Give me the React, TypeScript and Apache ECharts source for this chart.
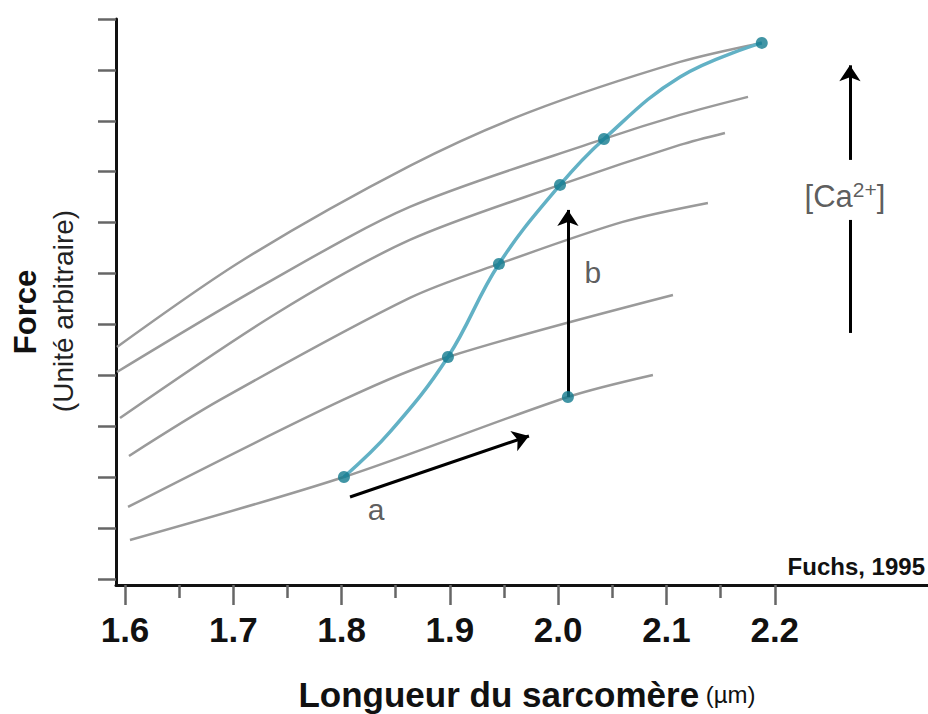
import { useEffect, useRef } from "react";
import * as echarts from "echarts";

const FONT = "'Liberation Sans', Arial, Helvetica, sans-serif";

// Axis ticks
const xMajorTicks = [1.6, 1.7, 1.8, 1.9, 2.0, 2.1, 2.2];
const xMinorTicks = [1.65, 1.75, 1.85, 1.95, 2.05, 2.15];
const yTicks = [0, 1, 2, 3, 4, 5, 6, 7, 8, 9, 10, 11];

// Gray force-length curves (one per calcium concentration)
const curve1 = [[1.5926, 4.558], [1.709, 6.267], [1.863, 8.115], [1.974, 9.175], [2.1125, 10.157], [2.188, 10.53]];
const curve2 = [[1.5926, 4.067], [1.7247, 5.737], [1.863, 7.308], [2.0423, 8.644], [2.1125, 9.116], [2.1753, 9.47]];
const curve3 = [[1.5954, 3.163], [1.7404, 5.226], [1.863, 6.66], [2.0017, 7.741], [2.1125, 8.527], [2.154, 8.762]];
const curve4 = [[1.6037, 2.417], [1.6877, 3.517], [1.863, 5.521], [1.9453, 6.189], [2.0596, 7.014], [2.1383, 7.387]];
const curve5 = [[1.6028, 1.415], [1.8013, 3.517], [1.8982, 4.361], [2.106, 5.58]];
const curve6 = [[1.6046, 0.766], [1.8022, 2.004], [2.009, 3.576], [2.0875, 4.008]];
const grayCurves = [curve1, curve2, curve3, curve4, curve5, curve6];

// Blue curve and its dots
const blueCurve = [[1.8022, 2.004], [1.8447, 2.888], [1.8982, 4.361], [1.9453, 6.189], [2.0017, 7.741], [2.0423, 8.644], [2.1125, 9.862], [2.188, 10.53]];
const blueDots = [[1.8022, 2.004], [1.8982, 4.361], [1.9453, 6.189], [2.0017, 7.741], [2.0423, 8.644], [2.188, 10.53], [2.009, 3.576]];

// Arrows
const arrowA = [[1.8078, 1.611], [1.973, 2.809]];
const arrowB = [[2.009, 3.576], [2.009, 7.25]];
const caLower = [[2.2694, 4.833], [2.2694, 7.053]];
const caUpper = [[2.2694, 8.232], [2.2694, 10.09]];

// Annotation labels
const labelA = [1.8318, 1.356];
const labelB = [2.0321, 6.012];
const labelCa = [2.2648, 7.505];

const X_MIN = 1.5917;
const X_MAX = 2.3415;
const Y_MIN = -0.118;
const Y_MAX = 11;

export default function App() {
  const ref = useRef<HTMLDivElement>(null);

  useEffect(() => {
    if (!ref.current) return;
    const chart = echarts.init(ref.current, null, { renderer: "svg" });

    const graySeries = grayCurves.map((c, i) => ({
      type: "line",
      name: "c" + i,
      data: c,
      smooth: 0.3,
      showSymbol: false,
      symbol: "none",
      lineStyle: { color: "#9a9a9a", width: 2.5 },
      z: 2,
      silent: true,
    }));

    const mkArrow = (pts: number[][], head: boolean) => [
      { coord: pts[0], symbol: "none" },
      { coord: pts[1], symbol: head ? "arrow" : "none" },
    ];

    const textSeries = (pt: number[], text: string, extra: any = {}) => ({
      type: "scatter",
      data: [pt],
      symbolSize: 1,
      itemStyle: { color: "rgba(0,0,0,0)" },
      silent: true,
      z: 6,
      label: {
        show: true,
        position: "inside",
        formatter: text,
        color: "#333",
        fontFamily: FONT,
        fontSize: 30,
        ...extra,
      },
    });

    chart.setOption({
      animation: false,
      backgroundColor: "#ffffff",
      grid: {
        left: 116,
        right: 0,
        top: 19,
        bottom: 129,
        containLabel: false,
        outerBoundsMode: "none",
      },
      xAxis: [
        {
          type: "value",
          min: X_MIN,
          max: X_MAX,
          position: "bottom",
          axisLine: { show: true, onZero: false, lineStyle: { color: "#111", width: 3 } },
          axisTick: {
            show: true,
            customValues: xMajorTicks,
            length: 20,
            lineStyle: { color: "#666", width: 2.5 },
          },
          axisLabel: {
            show: true,
            customValues: xMajorTicks,
            formatter: (v: number) => v.toFixed(1),
            fontFamily: FONT,
            fontWeight: "bold",
            fontSize: 35,
            color: "#111",
            margin: 27,
          },
          splitLine: { show: false },
        },
        {
          type: "value",
          min: X_MIN,
          max: X_MAX,
          position: "bottom",
          axisLine: { show: false, onZero: false },
          axisTick: {
            show: true,
            customValues: xMinorTicks,
            length: 13,
            lineStyle: { color: "#666", width: 2.5 },
          },
          axisLabel: { show: false },
          splitLine: { show: false },
        },
      ],
      yAxis: {
        type: "value",
        min: Y_MIN,
        max: Y_MAX,
        axisLine: { show: true, onZero: false, lineStyle: { color: "#111", width: 3 } },
        axisTick: {
          show: true,
          customValues: yTicks,
          length: 18,
          lineStyle: { color: "#666", width: 2.5 },
        },
        axisLabel: { show: false },
        splitLine: { show: false },
      },
      series: [
        ...graySeries,
        {
          type: "line",
          name: "blue",
          data: blueCurve,
          smooth: 0.4,
          showSymbol: false,
          symbol: "none",
          lineStyle: { color: "#62b1c5", width: 3.5 },
          z: 3,
          silent: true,
          markLine: {
            silent: true,
            symbolSize: 16,
            label: { show: false },
            lineStyle: { type: "solid", color: "#000", width: 3 },
            data: [
              mkArrow(arrowA, true),
              mkArrow(arrowB, true),
              mkArrow(caLower, false),
              mkArrow(caUpper, true),
            ],
          },
        },
        {
          type: "scatter",
          name: "dots",
          data: blueDots,
          symbolSize: 12,
          itemStyle: { color: "#127a8f" },
          z: 5,
          silent: true,
        },
        textSeries(labelA, "a"),
        textSeries(labelB, "b"),
        textSeries(labelCa, "[Ca{sup|2+}]", {
          fontSize: 31,
          color: "#333",
          rich: {
            sup: { fontSize: 21, color: "#333", fontFamily: FONT, verticalAlign: "top", padding: [0, 0, 14, 0] },
          },
        }),
      ],
      graphic: [
        {
          type: "text",
          x: 527,
          y: 694,
          style: {
            text: "{b|Longueur du sarcomère}{r| (µm)}",
            align: "center",
            verticalAlign: "middle",
            rich: {
              b: { fontFamily: FONT, fontWeight: "bold", fontSize: 35, fill: "#111" },
              r: { fontFamily: FONT, fontSize: 24, fill: "#111" },
            },
          },
        },
        {
          type: "text",
          x: 25,
          y: 312,
          rotation: Math.PI / 2,
          style: {
            text: "Force",
            align: "center",
            verticalAlign: "middle",
            fontFamily: FONT,
            fontWeight: "bold",
            fontSize: 31,
            fill: "#111",
          },
        },
        {
          type: "text",
          x: 63,
          y: 311,
          rotation: Math.PI / 2,
          style: {
            text: "(Unité arbitraire)",
            align: "center",
            verticalAlign: "middle",
            fontFamily: FONT,
            fontSize: 28,
            fill: "#222",
          },
        },
        {
          type: "text",
          x: 925,
          y: 566,
          style: {
            text: "Fuchs, 1995",
            align: "right",
            verticalAlign: "middle",
            fontFamily: FONT,
            fontWeight: "bold",
            fontSize: 24,
            fill: "#111",
          },
        },
      ],
    });

    return () => chart.dispose();
  }, []);

  return (
    <div
      ref={ref}
      style={{ position: "fixed", left: 0, top: 0, width: 928, height: 714, background: "#fff" }}
    />
  );
}
